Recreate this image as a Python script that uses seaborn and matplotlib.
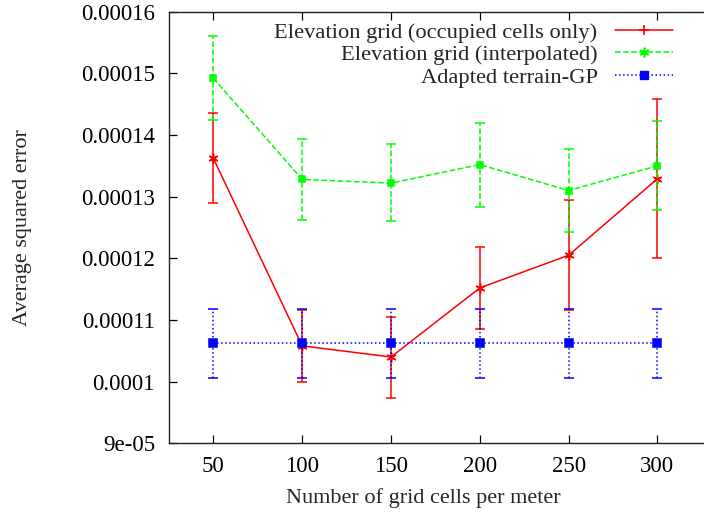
import matplotlib
matplotlib.use("Agg")
import matplotlib.pyplot as plt
from matplotlib.lines import Line2D
from matplotlib.ticker import FuncFormatter, MultipleLocator
import seaborn as sns
import pandas as pd

# data
cells = [50, 100, 150, 200, 250, 300]

occ_mean = [1.362e-4, 1.058e-4, 1.040e-4, 1.152e-4, 1.205e-4, 1.329e-4]
occ_lo = [1.290e-4, 1.000e-4, 0.973e-4, 1.085e-4, 1.117e-4, 1.200e-4]
occ_hi = [1.435e-4, 1.117e-4, 1.105e-4, 1.219e-4, 1.294e-4, 1.458e-4]

interp_mean = [1.492e-4, 1.328e-4, 1.322e-4, 1.352e-4, 1.310e-4, 1.350e-4]
interp_lo = [1.424e-4, 1.262e-4, 1.260e-4, 1.284e-4, 1.243e-4, 1.278e-4]
interp_hi = [1.560e-4, 1.394e-4, 1.385e-4, 1.420e-4, 1.378e-4, 1.423e-4]

gp_mean = [1.062e-4, 1.062e-4, 1.062e-4, 1.062e-4, 1.062e-4, 1.062e-4]
gp_lo = [1.006e-4, 1.006e-4, 1.006e-4, 1.006e-4, 1.006e-4, 1.006e-4]
gp_hi = [1.118e-4, 1.118e-4, 1.118e-4, 1.118e-4, 1.118e-4, 1.118e-4]

labels = ["Elevation grid (occupied cells only)",
          "Elevation grid (interpolated)",
          "Adapted terrain-GP"]

sns.set_theme(style="ticks")
plt.rcParams["font.family"] = ["Liberation Serif", "DejaVu Serif"]
plt.rcParams["font.size"] = 16

fig = plt.figure(figsize=(7.04, 5.17), dpi=100)
W, H = 704, 517
left, right, bottom, top = 169, 710.7, 517 - 443.3, 517 - 11.7
ax = fig.add_axes([left / W, bottom / H, (right - left) / W, (top - bottom) / H])

series = [
    (occ_mean, occ_lo, occ_hi, "#ff0000", "-", (6, 2, 0), 7),
    (interp_mean, interp_lo, interp_hi, "#00ff00", "--", "s", 5),
    (gp_mean, gp_lo, gp_hi, "#0000ff", ":", "s", 5.5),
]

for (mean, lo, hi, col, ls, mk, ms) in series:
    df = pd.DataFrame({"x": cells, "y": mean})
    yerr = [[m - l for m, l in zip(mean, lo)], [h - m for m, h in zip(mean, hi)]]
    eb = ax.errorbar(cells, mean, yerr=yerr, fmt="none", ecolor=col,
                     elinewidth=1.1, capsize=3.5, capthick=1.1)
    eb[2][0].set_linestyle(ls)
    sns.lineplot(data=df, x="x", y="y", ax=ax, color=col, linestyle=ls,
                 linewidth=1.1, marker=mk, markersize=ms,
                 markeredgecolor=col, markerfacecolor=col, mew=1.1)

ax.set_xlim(25, 330)
ax.set_ylim(9e-05, 0.00016)
ax.xaxis.set_major_locator(MultipleLocator(50))
ax.yaxis.set_major_locator(MultipleLocator(1e-05))
ax.yaxis.set_major_formatter(FuncFormatter(lambda v, p: f"{v:g}"))
ax.tick_params(direction="in", length=6, width=0.9, top=True, right=False,
               labelsize=16.5, colors="black")
ax.tick_params(axis="y", pad=10)
ax.tick_params(axis="x", pad=9)
for s in ax.spines.values():
    s.set_linewidth(1.0)
    s.set_color("#222222")

ax.set_xlabel("Number of grid cells per meter", fontsize=16)
ax.xaxis.set_label_coords((423 - left) / (right - left), (29 - bottom) / (top - bottom))
ax.set_ylabel("Average squared error", fontsize=16)
ax.yaxis.set_label_coords((32 - left) / (right - left), 0.5)

handles = [
    Line2D([], [], color="#ff0000", ls="-", lw=1.1, marker="+", ms=7, mew=1.2),
    Line2D([], [], color="#00ff00", ls="--", lw=1.1, marker=(6, 2, 0), ms=7, mew=1.2),
    Line2D([], [], color="#0000ff", ls=":", lw=1.1, marker="s", ms=6),
]
leg = ax.legend(handles, labels, loc="upper right", markerfirst=False,
                bbox_to_anchor=((673 - left) / (right - left), (517 - 22 - bottom) / (top - bottom)),
                bbox_transform=ax.transAxes, frameon=False, fontsize=16.2,
                handlelength=2.6, handletextpad=0.75, labelspacing=0.08,
                borderpad=0, borderaxespad=0)

fig.savefig("out.png", dpi=100)
